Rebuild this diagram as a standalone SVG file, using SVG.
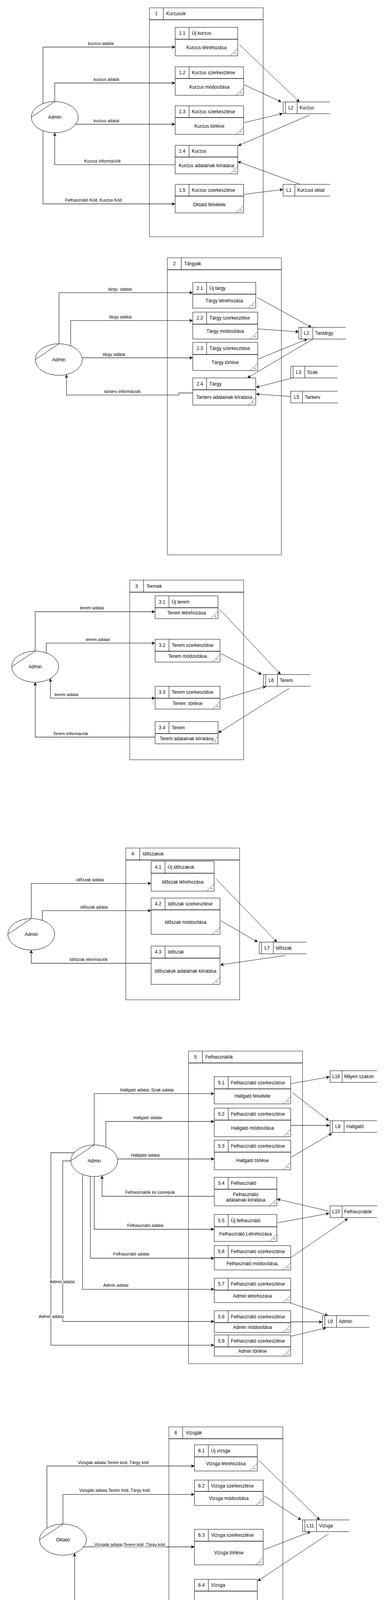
<svg xmlns="http://www.w3.org/2000/svg" width="982" height="7565" viewBox="0 0 982 7565">
<defs>
<style>
text{font-family:"Liberation Sans",Arial,sans-serif;fill:#000}
.t{font-size:12px;dominant-baseline:central}
.tm{font-size:12px;dominant-baseline:central;text-anchor:middle}
.l{font-size:11px;dominant-baseline:central;text-anchor:middle;paint-order:stroke;stroke:#fff;stroke-width:4px;stroke-linejoin:round}
.st{font-size:9px;text-anchor:middle}
.box{fill:#fff;stroke:#555;stroke-width:1.5}
.cont{fill:#fff;stroke:#666;stroke-width:1.5}
.hl{stroke:#000;stroke-width:1.5}
.dl{stroke:#000;stroke-width:1}
.cn{stroke:#444;stroke-width:1}
.sl{fill:none;stroke:#555;stroke-width:1.5}
.ent{fill:#fff;stroke:#000;stroke-width:1}
.f{fill:none;stroke:#333;stroke-width:1.3;marker-end:url(#ar)}
.g{fill:none;stroke:#111;stroke-width:1;marker-end:url(#ar)}
.bi{marker-start:url(#ar)}
</style>
<marker id="ar" viewBox="0 0 10 10" refX="10" refY="5" markerWidth="9" markerHeight="9" markerUnits="userSpaceOnUse" orient="auto-start-reverse"><path d="M0,0 L10,5 L0,10 L3,5 Z" fill="#000"/></marker>
</defs>
<rect width="982" height="7565" fill="#fff"/>

<!-- containers -->
<g id="c1"><rect class="cont" x="382" y="20" width="291" height="586"/><line class="hl" x1="382" y1="50.5" x2="673" y2="50.5"/><line class="dl" x1="417.5" y1="20" x2="417.5" y2="50.5"/><text class="tm" x="399.75" y="35.25">1</text><text class="t" x="425" y="35.25">Kurzusok</text></g>
<g id="c2"><rect class="cont" x="428" y="660" width="291.5" height="760.5"/><line class="hl" x1="428" y1="690.5" x2="719.5" y2="690.5"/><line class="dl" x1="463.5" y1="660" x2="463.5" y2="690.5"/><text class="tm" x="445.75" y="675.25">2</text><text class="t" x="471" y="675.25">Tárgyak</text></g>
<g id="c3"><rect class="cont" x="331.7" y="1485" width="291.3" height="460"/><line class="hl" x1="331.7" y1="1516" x2="623" y2="1516"/><line class="dl" x1="367.2" y1="1485" x2="367.2" y2="1516"/><text class="tm" x="349.45" y="1500.5">3</text><text class="t" x="374.7" y="1500.5">Termek</text></g>
<g id="c4"><rect class="cont" x="321.7" y="2171" width="291" height="388.5"/><line class="hl" x1="321.7" y1="2201.5" x2="612.7" y2="2201.5"/><line class="dl" x1="357.2" y1="2171" x2="357.2" y2="2201.5"/><text class="tm" x="339.45" y="2186.25">4</text><text class="t" x="364.7" y="2186.25">Időszakok</text></g>
<g id="c5"><rect class="cont" x="482" y="2690.7" width="291.6" height="800.3"/><line class="hl" x1="482" y1="2721.2" x2="773.6" y2="2721.2"/><line class="dl" x1="517.5" y1="2690.7" x2="517.5" y2="2721.2"/><text class="tm" x="499.75" y="2705.95">5</text><text class="t" x="525" y="2705.95">Felhasználók</text></g>
<g id="c6"><rect class="cont" x="431.8" y="3652.8" width="291.5" height="529.2"/><line class="hl" x1="431.8" y1="3683.3" x2="723.3" y2="3683.3"/><line class="dl" x1="467.3" y1="3652.8" x2="467.3" y2="3683.3"/><text class="tm" x="449.55" y="3668.05">6</text><text class="t" x="474.8" y="3668.05">Vizsgák</text></g>
<g id="c8"><rect class="cont" x="386.5" y="4511" width="291.5" height="583"/><line class="hl" x1="386.5" y1="4541.5" x2="678" y2="4541.5"/><line class="dl" x1="422" y1="4511" x2="422" y2="4541.5"/><text class="tm" x="404.25" y="4526.25">8</text><text class="t" x="429.5" y="4526.25">Vizsák</text></g>
<g id="c9"><rect class="cont" x="386.5" y="5171.4" width="291.5" height="582.6"/><line class="hl" x1="386.5" y1="5201.9" x2="678" y2="5201.9"/><line class="dl" x1="422" y1="5171.4" x2="422" y2="5201.9"/><text class="tm" x="404.25" y="5186.65">9</text><text class="t" x="429.5" y="5186.65">Kurzusok</text></g>
<g id="c12"><rect class="cont" x="401.6" y="6461.3" width="291.4" height="583.3"/><line class="hl" x1="401.6" y1="6491.8" x2="693" y2="6491.8"/><line class="dl" x1="437.1" y1="6461.3" x2="437.1" y2="6491.8"/><text class="tm" x="419.35" y="6476.55">12</text><text class="t" x="444.6" y="6476.55">Kurzusok</text></g>
<g id="c13"><rect class="cont" x="391.5" y="7114" width="241" height="431.7"/><line class="hl" x1="391.5" y1="7144.5" x2="632.5" y2="7144.5"/><line class="dl" x1="427" y1="7114" x2="427" y2="7144.5"/><text class="tm" x="409.25" y="7129.25">13</text><text class="t" x="434.5" y="7129.25">Szakok</text></g>

<!-- connectors -->
<g id="connectors">
<path class="f" d="M110,265.4 V120.5 H448"/>
<path class="f" d="M140,260 V212.5 H448"/>
<path class="f" d="M194,318 H448"/>
<path class="f" d="M448,421.7 H140 V340"/>
<path class="f" d="M110,334.6 V522 H448"/>
<path class="g" d="M612,114 L766,261"/>
<path class="g" d="M624.5,217 L719.5,261"/>
<path class="g" d="M624.5,314 L722.7,290.5"/>
<path class="g" d="M790.7,295 L609,373"/>
<path class="g" d="M768,472 L608,413.5"/>
<path class="g" d="M624.5,497.5 L724,485"/>

<path class="f" d="M151,880 V749.3 H493"/>
<path class="f" d="M180.7,885 V820.7 H493"/>
<path class="f" d="M210.5,916 H493"/>
<path class="f" d="M493,1006 H457.7 V1011.3 H170 V959"/>
<path class="g" d="M658,761.6 L796.4,838"/>
<path class="g" d="M659,842 L764,849.4"/>
<path class="g" d="M660.4,919 L786,868"/>
<path class="g" d="M799.5,868.6 L632.7,967.4"/>
<path class="g" d="M749,967.4 L654.7,991.6"/>
<path class="g" d="M743.5,1015 L654.7,1008.8"/>

<path class="f" d="M90,1666.7 V1566 H396.6"/>
<path class="f" d="M118.3,1671.4 V1646.4 H396.6"/>
<path class="f bi" d="M129,1737 V1787.4 H396.6"/>
<path class="f" d="M396.6,1887 H90 V1746.7"/>
<path class="g" d="M562,1560 L717.7,1726.7"/>
<path class="g" d="M564.7,1673 L669,1726.7"/>
<path class="g" d="M564.7,1791.5 L680.5,1757"/>
<path class="g" d="M739.7,1762 L558.4,1876"/>

<path class="f" d="M80,2351.4 V2261.6 H386.5"/>
<path class="f" d="M108.3,2356.2 V2331.3 H386.5"/>
<path class="f" d="M386.5,2466 H80 V2432.2"/>
<path class="g" d="M552,2249.7 L708.2,2411.7"/>
<path class="g" d="M564.7,2357 L659,2411.7"/>
<path class="g" d="M730,2446 L563.4,2470"/>

<path class="f" d="M241,2931 V2799.7 H548"/>
<path class="f" d="M270.7,2936.3 V2871 H548"/>
<path class="f" d="M300.6,2967 H548"/>
<path class="f" d="M548,3062.5 H261 V3010"/>
<path class="f" d="M241,3012 V3147 H548"/>
<path class="f" d="M231,3011.4 V3221 H548"/>
<path class="f" d="M211,3006.6 V3300.6 H548"/>
<path class="f" d="M181,2972 H160.5 V3383 H548"/>
<path class="f" d="M189.3,2951 H130 V3443.7 H548"/>
<path class="g" d="M744.7,2774 L843,2756.8"/>
<path class="g" d="M748.5,2797.7 L841,2869"/>
<path class="f" d="M744.7,2881 L843,2881"/>
<path class="g" d="M744.7,2962.5 L848.6,2901.5"/>
<path class="g" d="M841,3100.6 L708.2,3069.5"/>
<path class="g" d="M709.4,3130.5 L842,3106"/>
<path class="g" d="M743.4,3219.4 L889.5,3119.5"/>
<path class="g" d="M739.7,3334.6 L839,3368"/>
<path class="f" d="M743.4,3384 L824,3384"/>
<path class="g" d="M743.4,3421 L834,3399.4"/>

<path class="f" d="M120,3912 V3753 H497.3"/>
<path class="f" d="M161,3901.5 V3825.7 H497.3"/>
<path class="f" d="M214,3960 H497.3"/>
<path class="f" d="M497.3,4112 H190.7 V3976.3"/>
<path class="g" d="M662,3738 L817.7,3891"/>
<path class="g" d="M674.8,3829 L770,3891"/>
<path class="g" d="M674.8,3967.5 L794.4,3921"/>
<path class="g" d="M840.4,3926.5 L659,4047.5"/>

<path class="f" d="M250.7,4303.5 H442.5"/>
<path class="f bi" d="M603,4302.6 H652"/>

<path class="f" d="M151,4752.4 V4611.5 H452"/>
<path class="f" d="M202,4778.5 H452"/>
<path class="f" d="M452,4912.4 H146 V4832"/>
<path class="g" d="M590,4637 L765,4752"/>
<path class="g" d="M613.8,4768 L728,4768"/>
<path class="g" d="M795.7,4787.4 L613.8,4864.4"/>
<path class="g" d="M728,4907.5 L613.8,4903.8"/>

<path class="f" d="M151,5412.4 V5272 H452"/>
<path class="f" d="M201.3,5438 H452"/>
<path class="f" d="M452,5573.4 H146 V5492.8"/>
<path class="g" d="M617,5264.4 L771,5412.4"/>
<path class="f" d="M613.8,5427.6 L728,5427.6"/>
<path class="g" d="M795.7,5447 L613.8,5525"/>
<path class="g" d="M728,5567.4 L613.8,5563.3"/>

<path class="f" d="M417.4,5954 L221,5952"/>
<path class="f" d="M642.7,5943 H593.6"/>

<path class="f" d="M431.8,6153.6 H420.5 V6132.6 H401 V6062.6 H150 V6088"/>
<path class="f" d="M210.5,6127.7 H316 V6173 H431.8"/>
<path class="f" d="M202,6273.6 H316 V6203.5 H431.8"/>
<path class="f" d="M431.8,6233 H401 V6320.7 H150 V6293.4"/>
<path class="f bi" d="M593.6,6184.3 H632.7"/>

<path class="f" d="M130.3,6708 V6562 H467"/>
<path class="f" d="M217,6728 H467"/>
<path class="f" d="M467,6863 H161 V6782.4"/>
<path class="g" d="M632,6555 L787,6702.4"/>
<path class="g" d="M628.3,6718.4 L743.5,6718.4"/>
<path class="g" d="M804.5,6734 L630,6813.5"/>
<path class="g" d="M753.5,6857.8 L628.3,6854"/>

<path class="f" d="M221.6,7276 L427.4,7217.2"/>
<path class="f" d="M221.6,7289.3 L428,7275"/>
<path class="f" d="M221.6,7301.3 L427.4,7325.8"/>
<path class="f" d="M221.6,7315 L427.4,7383"/>
<path class="g" d="M589.2,7215.6 L732,7253"/>
<path class="g" d="M603.7,7268.5 L729,7268.5"/>
<path class="g" d="M603.7,7337.8 L749,7283"/>
<path class="g" d="M588,7412.7 L713,7412.7"/>

<text class="l" x="258" y="110.5">kurzus adatai</text>
<text class="l" x="272" y="203">kurzus adatai</text>
<text class="l" x="272" y="308.5">kurzus adatai</text>
<text class="l" x="262" y="412">Kurzus információk</text>
<text class="l" x="239" y="511.5">Felhasználó Kód, Kurzus Kód</text>
<text class="l" x="307" y="740" xml:space="preserve">tárgy  adatai</text>
<text class="l" x="308" y="811">tárgy adatai</text>
<text class="l" x="291.5" y="906.8">tárgy adatai</text>
<text class="l" x="313" y="1002">tanterv információk</text>
<text class="l" x="235" y="1556">terem adatai</text>
<text class="l" x="250" y="1636.5">terem adatai</text>
<text class="l" x="170" y="1777.6">terem adatai</text>
<text class="l" x="180.7" y="1877.6">Terem információk</text>
<text class="l" x="230.4" y="2251.8">időszak adatai</text>
<text class="l" x="240.5" y="2322">időszak adatai</text>
<text class="l" x="226.6" y="2456.4">Időszak információk</text>
<text class="l" x="375.8" y="2790">Hallgató adatai, Szak adatai</text>
<text class="l" x="377.7" y="2861">Hallgató adatai</text>
<text class="l" x="372" y="2957">Hallgató adatai</text>
<text class="l" x="384" y="3052">Felhasználók és szerepük</text>
<text class="l" x="371.4" y="3137">Felhasználó adatai</text>
<text class="l" x="335.5" y="3210">Felhasználó adatai</text>
<text class="l" x="296" y="3289.6">Admin adatai</text>
<text class="l" x="159" y="3280.5">Admin adatai</text>
<text class="l" x="131" y="3370">Admin adatai</text>
<text class="l" x="289.6" y="3743.8">Vizsgák adatai,Terem kód, Tárgy kód</text>
<text class="l" x="292.7" y="3815.4">Vizsgák adatai,Terem kód, Tárgy kód</text>
<text class="l" x="331.7" y="3954">Vizsgák adatai,Terem kód, Tárgy kód</text>
<text class="l" x="323" y="4102.4">Vizsgák adatai,Terem kód, Tárgy kód</text>
<text class="l" x="347" y="4293.6">Felhasználó kód, jelszó</text>
<text class="l" x="299" y="4602">Felhasználó kód,Vizsga kód</text>
<text class="l" x="297" y="4768.5">Felhasználó kód,Vizsga kód</text>
<text class="l" x="267" y="4903.4">Vizsga információk</text>
<text class="l" x="299" y="5262.4">Felhasználó kód, Kurzus kód</text>
<text class="l" x="297" y="5429">Felhasználó kód, Kurzus kód</text>
<text class="l" x="267" y="5563.3">Kurzus iformációk</text>
<text class="l" x="317" y="5943" xml:space="preserve">Üzenet  információi</text>
<text class="l" x="326" y="6052.7">Tartalom , Címzett, Időpont</text>
<text class="l" x="316.6" y="6146.5" xml:space="preserve">Üzenet  adatai,Felhasználó kód</text>
<text class="l" x="314.8" y="6223.7">Üzenet adatai, Felhasználó kód</text>
<text class="l" x="264.4" y="6313">Tartalom , Címzett, Időpont</text>
<text class="l" x="302" y="6552.3">Felhasználó kód, Kurzus kód</text>
<text class="l" x="312" y="6718.8">Felhasználó kód, Kurzus kód</text>
<text class="l" x="281.4" y="6853.7">Kurzus iformációk</text>
<text class="l" x="343.7" y="7229.6">tanterv adatai</text>
<text class="l" x="345" y="7269">tanterv adatai</text>
<text class="l" x="345" y="7305.3">tanterv adatai</text>
<text class="l" x="323" y="7339">Szak adatai</text>
</g>

<!-- processes -->
<g id="p1_1"><rect class="box" x="448" y="70" width="160" height="73"/><line class="hl" x1="448" y1="100.5" x2="608" y2="100.5"/><line class="dl" x1="483.5" y1="70" x2="483.5" y2="100.5"/><line class="cn" x1="589" y1="143" x2="608" y2="124"/><text class="tm" x="465.75" y="85.25">1.1</text><text class="t" x="490.5" y="85.25">Új kurzus</text><text class="tm" x="528" y="122">Kurzus létrehozása</text><text class="st" x="601" y="141">*</text></g>
<g id="p1_2"><rect class="box" x="448" y="171" width="175" height="73"/><line class="hl" x1="448" y1="201" x2="623" y2="201"/><line class="dl" x1="483.5" y1="171" x2="483.5" y2="201"/><line class="cn" x1="604" y1="244" x2="623" y2="225"/><text class="tm" x="465.75" y="186">1.2</text><text class="t" x="490.5" y="186">Kurzus szerkesztése</text><text class="tm" x="535.5" y="222.5">Kurzus módosítása</text><text class="st" x="616" y="242">*</text></g>
<g id="p1_3"><rect class="box" x="448" y="271" width="175" height="73"/><line class="hl" x1="448" y1="301" x2="623" y2="301"/><line class="dl" x1="483.5" y1="271" x2="483.5" y2="301"/><line class="cn" x1="604" y1="344" x2="623" y2="325"/><text class="tm" x="465.75" y="286">1.3</text><text class="t" x="490.5" y="286">Kurzus szerkesztése</text><text class="tm" x="535.5" y="322.5">Kurzus törlése</text><text class="st" x="616" y="342">*</text></g>
<g id="p1_4"><rect class="box" x="448" y="372" width="160" height="73"/><line class="hl" x1="448" y1="402" x2="608" y2="402"/><line class="dl" x1="483.5" y1="372" x2="483.5" y2="402"/><line class="cn" x1="589" y1="445" x2="608" y2="426"/><text class="tm" x="465.75" y="387">1.4</text><text class="t" x="490.5" y="387">Kurzus</text><text class="tm" x="528" y="423.5">Kurzus adatainak kiíratása</text><text class="st" x="601" y="443">*</text></g>
<g id="p1_5"><rect class="box" x="448" y="472" width="175" height="73"/><line class="hl" x1="448" y1="502" x2="623" y2="502"/><line class="dl" x1="483.5" y1="472" x2="483.5" y2="502"/><line class="cn" x1="604" y1="545" x2="623" y2="526"/><text class="tm" x="465.75" y="487">1.5</text><text class="t" x="490.5" y="487">Kurzus szerkesztése</text><text class="tm" x="535.5" y="523.5">Oktató felvétele</text><text class="st" x="616" y="543">*</text></g>

<g id="p2_1"><rect class="box" x="493" y="723" width="161" height="66"/><line class="hl" x1="493" y1="753" x2="654" y2="753"/><line class="dl" x1="528.5" y1="723" x2="528.5" y2="753"/><line class="cn" x1="635" y1="789" x2="654" y2="770"/><text class="tm" x="510.75" y="738">2.1</text><text class="t" x="535.5" y="738">Új tárgy</text><text class="tm" x="573.5" y="770">Tárgy létrehozása</text><text class="st" x="647" y="787">*</text></g>
<g id="p2_2"><rect class="box" x="493" y="799" width="166" height="69"/><line class="hl" x1="493" y1="829.7" x2="659" y2="829.7"/><line class="dl" x1="528.5" y1="799" x2="528.5" y2="829.7"/><line class="cn" x1="640" y1="868" x2="659" y2="849"/><text class="tm" x="510.75" y="814.35">2.2</text><text class="t" x="535.5" y="814.35">Tárgy szerkesztése</text><text class="tm" x="576" y="848">Tárgy módosítása</text><text class="st" x="652" y="866">*</text></g>
<g id="p2_3"><rect class="box" x="493" y="876.5" width="166" height="72"/><line class="hl" x1="493" y1="907.5" x2="659" y2="907.5"/><line class="dl" x1="528.5" y1="876.5" x2="528.5" y2="907.5"/><line class="cn" x1="640" y1="948.5" x2="659" y2="929.5"/><text class="tm" x="510.75" y="892">2.3</text><text class="t" x="535.5" y="892">Tárgy szerkesztése</text><text class="tm" x="576" y="927.5">Tárgy törlése</text><text class="st" x="652" y="946.5">*</text></g>
<g id="p2_4"><rect class="box" x="493" y="967.5" width="161" height="69.5"/><line class="hl" x1="493" y1="997.8" x2="654" y2="997.8"/><line class="dl" x1="528.5" y1="967.5" x2="528.5" y2="997.8"/><line class="cn" x1="635" y1="1037" x2="654" y2="1018"/><text class="tm" x="510.75" y="982.65">2.4</text><text class="t" x="535.5" y="982.65">Tárgy</text><text class="tm" x="573.5" y="1017">Tanterv adatainak kiíratása</text><text class="st" x="647" y="1035">*</text></g>

<g id="p3_1"><rect class="box" x="396.6" y="1525.4" width="161" height="58.3"/><line class="hl" x1="396.6" y1="1555.8" x2="557.6" y2="1555.8"/><line class="dl" x1="432.1" y1="1525.4" x2="432.1" y2="1555.8"/><line class="cn" x1="538.6" y1="1583.7" x2="557.6" y2="1564.7"/><text class="tm" x="414.35" y="1540.6">3.1</text><text class="t" x="439.1" y="1540.6">Új terem</text><text class="tm" x="477.1" y="1569">Terem létrehozása</text><text class="st" x="550.6" y="1581.7">*</text></g>
<g id="p3_2"><rect class="box" x="396.6" y="1636.5" width="166" height="58.3"/><line class="hl" x1="396.6" y1="1667.3" x2="562.6" y2="1667.3"/><line class="dl" x1="432.1" y1="1636.5" x2="432.1" y2="1667.3"/><line class="cn" x1="543.6" y1="1694.8" x2="562.6" y2="1675.8"/><text class="tm" x="414.35" y="1651.9">3.2</text><text class="t" x="439.1" y="1651.9">Terem szerkesztése</text><text class="tm" x="479.6" y="1680">Terem módosítása</text><text class="st" x="555.6" y="1692.8">*</text></g>
<g id="p3_3"><rect class="box" x="396.6" y="1757" width="166" height="58.3"/><line class="hl" x1="396.6" y1="1787.4" x2="562.6" y2="1787.4"/><line class="dl" x1="432.1" y1="1757" x2="432.1" y2="1787.4"/><line class="cn" x1="543.6" y1="1815.3" x2="562.6" y2="1796.3"/><text class="tm" x="414.35" y="1772.2">3.3</text><text class="t" x="439.1" y="1772.2">Terem szerkesztése</text><text class="tm" x="479.6" y="1800.5" xml:space="preserve">Terem  törlése</text><text class="st" x="555.6" y="1813.3">*</text></g>
<g id="p3_4"><rect class="box" x="396.6" y="1847.3" width="161" height="57"/><line class="hl" x1="396.6" y1="1878" x2="557.6" y2="1878"/><line class="dl" x1="432.1" y1="1847.3" x2="432.1" y2="1878"/><line class="cn" x1="538.6" y1="1904.3" x2="557.6" y2="1885.3"/><text class="tm" x="414.35" y="1862.65">3.4</text><text class="t" x="439.1" y="1862.65">Terem</text><text class="tm" x="477.1" y="1891">Terem adatainak kiíratása</text><text class="st" x="550.6" y="1902.3">*</text></g>

<g id="p4_1"><rect class="box" x="386.5" y="2204.7" width="161" height="76.7"/><line class="hl" x1="386.5" y1="2235.4" x2="547.5" y2="2235.4"/><line class="dl" x1="422" y1="2204.7" x2="422" y2="2235.4"/><line class="cn" x1="528.5" y1="2281.4" x2="547.5" y2="2262.4"/><text class="tm" x="404.25" y="2220.05">4.1</text><text class="t" x="429" y="2220.05">Új időszakok</text><text class="tm" x="467" y="2258">Időszak létrehozása</text><text class="st" x="540.5" y="2279.4">*</text></g>
<g id="p4_2"><rect class="box" x="386.5" y="2299" width="176" height="93"/><line class="hl" x1="386.5" y1="2329.3" x2="562.5" y2="2329.3"/><line class="dl" x1="422" y1="2299" x2="422" y2="2329.3"/><line class="cn" x1="543.5" y1="2392" x2="562.5" y2="2373"/><text class="tm" x="404.25" y="2314.15">4.2</text><text class="t" x="429" y="2314.15">Időszak szerkesztése</text><text class="tm" x="474.5" y="2360.5">Időszak módosítása</text><text class="st" x="555.5" y="2390">*</text></g>
<g id="p4_3"><rect class="box" x="386.5" y="2422" width="176" height="98"/><line class="hl" x1="386.5" y1="2452.7" x2="562.5" y2="2452.7"/><line class="dl" x1="422" y1="2422" x2="422" y2="2452.7"/><line class="cn" x1="543.5" y1="2520" x2="562.5" y2="2501"/><text class="tm" x="404.25" y="2437.35">4.3</text><text class="t" x="429" y="2437.35">Időszak</text><text class="tm" x="474.5" y="2486">Időszakok adatainak kiíratása</text><text class="st" x="555.5" y="2518">*</text></g>

<g id="p5_1"><rect class="box" x="548" y="2756.3" width="195.4" height="69.7"/><line class="hl" x1="548" y1="2787.5" x2="743.4" y2="2787.5"/><line class="dl" x1="583.5" y1="2756.3" x2="583.5" y2="2787.5"/><line class="cn" x1="724.4" y1="2826" x2="743.4" y2="2807"/><text class="tm" x="565.75" y="2771.9">5.1</text><text class="t" x="590.5" y="2771.9">Felhasználó szerkesztése</text><text class="tm" x="645.7" y="2805.5">Hallgató felvétele</text><text class="st" x="736.4" y="2824">*</text></g>
<g id="p5_2"><rect class="box" x="548" y="2836.7" width="195.4" height="73.3"/><line class="hl" x1="548" y1="2867.4" x2="743.4" y2="2867.4"/><line class="dl" x1="583.5" y1="2836.7" x2="583.5" y2="2867.4"/><line class="cn" x1="724.4" y1="2910" x2="743.4" y2="2891"/><text class="tm" x="565.75" y="2852.05">5.2</text><text class="t" x="590.5" y="2852.05">Felhasználó szerkesztése</text><text class="tm" x="645.7" y="2887.5">Hallgató módosítása</text><text class="st" x="736.4" y="2908">*</text></g>
<g id="p5_3"><rect class="box" x="548" y="2918.7" width="195.4" height="75.8"/><line class="hl" x1="548" y1="2949.4" x2="743.4" y2="2949.4"/><line class="dl" x1="583.5" y1="2918.7" x2="583.5" y2="2949.4"/><line class="cn" x1="724.4" y1="2994.5" x2="743.4" y2="2975.5"/><text class="tm" x="565.75" y="2934.05">5.3</text><text class="t" x="590.5" y="2934.05">Felhasználó szerkesztése</text><text class="tm" x="645.7" y="2971">Hallgató törlése</text><text class="st" x="736.4" y="2992.5">*</text></g>
<g id="p5_4"><rect class="box" x="548" y="3014" width="160" height="73"/><line class="hl" x1="548" y1="3044.6" x2="708" y2="3044.6"/><line class="dl" x1="583.5" y1="3014" x2="583.5" y2="3044.6"/><line class="cn" x1="689" y1="3087" x2="708" y2="3068"/><text class="tm" x="565.75" y="3029.3">5.4</text><text class="t" x="590.5" y="3029.3">Felhasználó</text><text class="tm" x="628" y="3058">Felhasználó</text><text class="tm" x="628" y="3072">adatainak kiíratása</text><text class="st" x="701" y="3085">*</text></g>
<g id="p5_5"><rect class="box" x="548" y="3109" width="160" height="69"/><line class="hl" x1="548" y1="3140.5" x2="708" y2="3140.5"/><line class="dl" x1="583.5" y1="3109" x2="583.5" y2="3140.5"/><line class="cn" x1="689" y1="3178" x2="708" y2="3159"/><text class="tm" x="565.75" y="3124.75">5.5</text><text class="t" x="590.5" y="3124.75">Új felhasználó</text><text class="tm" x="628" y="3159">Felhasználó Létrehozása</text><text class="st" x="701" y="3176">*</text></g>
<g id="p5_6"><rect class="box" x="548" y="3188.7" width="195.4" height="62.3"/><line class="hl" x1="548" y1="3219.4" x2="743.4" y2="3219.4"/><line class="dl" x1="583.5" y1="3188.7" x2="583.5" y2="3219.4"/><line class="cn" x1="724.4" y1="3251" x2="743.4" y2="3232"/><text class="tm" x="565.75" y="3204.05">5.6</text><text class="t" x="590.5" y="3204.05">Felhasználó szerkesztése</text><text class="tm" x="645.7" y="3235">Felhasználó módosítása,</text><text class="st" x="736.4" y="3249">*</text></g>
<g id="p5_7"><rect class="box" x="548" y="3272" width="195.4" height="62.6"/><line class="hl" x1="548" y1="3302.7" x2="743.4" y2="3302.7"/><line class="dl" x1="583.5" y1="3272" x2="583.5" y2="3302.7"/><line class="cn" x1="724.4" y1="3334.6" x2="743.4" y2="3315.6"/><text class="tm" x="565.75" y="3287.35">5.7</text><text class="t" x="590.5" y="3287.35">Felhasználó szerkesztése</text><text class="tm" x="645.7" y="3318">Admin létrehozása</text><text class="st" x="736.4" y="3332.6">*</text></g>
<g id="p5_8"><rect class="box" x="548" y="3355.5" width="195.4" height="55.5"/><line class="hl" x1="548" y1="3386" x2="743.4" y2="3386"/><line class="dl" x1="583.5" y1="3355.5" x2="583.5" y2="3386"/><line class="cn" x1="724.4" y1="3411" x2="743.4" y2="3392"/><text class="tm" x="565.75" y="3370.75">5.8</text><text class="t" x="590.5" y="3370.75">Felhasználó szerkesztése</text><text class="tm" x="645.7" y="3398">Admin módosítása</text><text class="st" x="736.4" y="3409">*</text></g>
<g id="p5_9"><rect class="box" x="548" y="3417.5" width="195.4" height="54"/><line class="hl" x1="548" y1="3448" x2="743.4" y2="3448"/><line class="dl" x1="583.5" y1="3417.5" x2="583.5" y2="3448"/><line class="cn" x1="724.4" y1="3471.5" x2="743.4" y2="3452.5"/><text class="tm" x="565.75" y="3432.75">5.9</text><text class="t" x="590.5" y="3432.75">Felhasználó szerkesztése</text><text class="tm" x="645.7" y="3459">Admin törlése</text><text class="st" x="736.4" y="3469.5">*</text></g>

<g id="p6_1"><rect class="box" x="497.3" y="3698.7" width="160.5" height="67"/><line class="hl" x1="497.3" y1="3729.5" x2="657.8" y2="3729.5"/><line class="dl" x1="532.8" y1="3698.7" x2="532.8" y2="3729.5"/><line class="cn" x1="638.8" y1="3765.7" x2="657.8" y2="3746.7"/><text class="tm" x="515.05" y="3714.1">6.1</text><text class="t" x="539.8" y="3714.1">Új vizsga</text><text class="tm" x="577.55" y="3747">Vizsga létrehozása</text><text class="st" x="650.8" y="3763.7">*</text></g>
<g id="p6_2"><rect class="box" x="497.3" y="3789" width="175.7" height="65"/><line class="hl" x1="497.3" y1="3818" x2="673" y2="3818"/><line class="dl" x1="532.8" y1="3789" x2="532.8" y2="3818"/><line class="cn" x1="654" y1="3854" x2="673" y2="3835"/><text class="tm" x="515.05" y="3803.5">6.2</text><text class="t" x="539.8" y="3803.5">Vizsga szerkesztése</text><text class="tm" x="585.15" y="3835.5">Vizsga módosítása</text><text class="st" x="666" y="3852">*</text></g>
<g id="p6_3"><rect class="box" x="497.3" y="3915" width="175.7" height="91"/><line class="hl" x1="497.3" y1="3945.4" x2="673" y2="3945.4"/><line class="dl" x1="532.8" y1="3915" x2="532.8" y2="3945.4"/><line class="cn" x1="654" y1="4006" x2="673" y2="3987"/><text class="tm" x="515.05" y="3930.2">6.3</text><text class="t" x="539.8" y="3930.2">Vizsga szerkesztése</text><text class="tm" x="585.15" y="3975">Vizsga törlése</text><text class="st" x="666" y="4004">*</text></g>
<g id="p6_4"><rect class="box" x="497.3" y="4043" width="160.5" height="118.5"/><line class="hl" x1="497.3" y1="4073.3" x2="657.8" y2="4073.3"/><line class="dl" x1="532.8" y1="4043" x2="532.8" y2="4073.3"/><line class="cn" x1="638.8" y1="4161.5" x2="657.8" y2="4142.5"/><text class="tm" x="515.05" y="4058.15">6.4</text><text class="t" x="539.8" y="4058.15">Vizsga</text><text class="tm" x="577.55" y="4116">Vizsga adatainak kiíratása</text><text class="st" x="650.8" y="4159.5">*</text></g>

<g id="p7"><rect class="box" x="442.5" y="4242.6" width="160.5" height="120.4"/><line class="hl" x1="442.5" y1="4273.4" x2="603" y2="4273.4"/><line class="dl" x1="478" y1="4242.6" x2="478" y2="4273.4"/><line class="cn" x1="584" y1="4363" x2="603" y2="4344"/><text class="tm" x="460.25" y="4258">7</text><text class="t" x="485" y="4258">Bejelentkezés</text><text class="tm" x="522.75" y="4317">Bejelentkezés</text><text class="st" x="596" y="4361">*</text></g>

<g id="p8_1"><rect class="box" x="452" y="4561.4" width="161" height="73.4"/><line class="hl" x1="452" y1="4592" x2="613" y2="4592"/><line class="dl" x1="487.5" y1="4561.4" x2="487.5" y2="4592"/><line class="cn" x1="594" y1="4634.8" x2="613" y2="4615.8"/><text class="tm" x="469.75" y="4576.7">8.1</text><text class="t" x="494.5" y="4576.7">Vizsgajelentkezés</text><text class="tm" x="532.5" y="4613">Vizsga felvétele</text><text class="st" x="606" y="4632.8">*</text></g>
<g id="p8_2"><rect class="box" x="452" y="4730" width="161" height="73.6"/><line class="hl" x1="452" y1="4761" x2="613" y2="4761"/><line class="dl" x1="487.5" y1="4730" x2="487.5" y2="4761"/><line class="cn" x1="594" y1="4803.6" x2="613" y2="4784.6"/><text class="tm" x="469.75" y="4745.5">8.2</text><text class="t" x="494.5" y="4745.5">Felvett vizsgák</text><text class="tm" x="532.5" y="4782">Vizsga leadás</text><text class="st" x="606" y="4801.6">*</text></g>
<g id="p8_3"><rect class="box" x="452" y="4862.8" width="161" height="73.2"/><line class="hl" x1="452" y1="4893.6" x2="613" y2="4893.6"/><line class="dl" x1="487.5" y1="4862.8" x2="487.5" y2="4893.6"/><line class="cn" x1="594" y1="4936" x2="613" y2="4917"/><text class="tm" x="469.75" y="4878.2">8.3</text><text class="t" x="494.5" y="4878.2">Vizsga</text><text class="tm" x="532.5" y="4914.5">Vizsga adatainak kiíratása</text><text class="st" x="606" y="4934">*</text></g>

<g id="p9_1"><rect class="box" x="452" y="5221.4" width="161" height="73.6"/><line class="hl" x1="452" y1="5252" x2="613" y2="5252"/><line class="dl" x1="487.5" y1="5221.4" x2="487.5" y2="5252"/><line class="cn" x1="594" y1="5295" x2="613" y2="5276"/><text class="tm" x="469.75" y="5236.7">9.1</text><text class="t" x="494.5" y="5236.7">Kurzusfelvétel</text><text class="tm" x="532.5" y="5273.5">Kurzus felvétele</text><text class="st" x="606" y="5293">*</text></g>
<g id="p9_2"><rect class="box" x="452" y="5390" width="161" height="74"/><line class="hl" x1="452" y1="5421.5" x2="613" y2="5421.5"/><line class="dl" x1="487.5" y1="5390" x2="487.5" y2="5421.5"/><line class="cn" x1="594" y1="5464" x2="613" y2="5445"/><text class="tm" x="469.75" y="5405.75">9.2</text><text class="t" x="494.5" y="5405.75">Felvett kurzusok</text><text class="tm" x="532.5" y="5441.5">Kurzus leadás</text><text class="st" x="606" y="5462">*</text></g>
<g id="p9_3"><rect class="box" x="452" y="5522.7" width="161" height="73.8"/><line class="hl" x1="452" y1="5553.5" x2="613" y2="5553.5"/><line class="dl" x1="487.5" y1="5522.7" x2="487.5" y2="5553.5"/><line class="cn" x1="594" y1="5596.5" x2="613" y2="5577.5"/><text class="tm" x="469.75" y="5538.1">9.3</text><text class="t" x="494.5" y="5538.1">Kurzus</text><text class="tm" x="532.5" y="5574.5">Kurzus adatainak kiíratása</text><text class="st" x="606" y="5594.5">*</text></g>

<g id="p10"><rect class="box" x="417.4" y="5881.7" width="175" height="120.6"/><line class="hl" x1="417.4" y1="5912.5" x2="592.4" y2="5912.5"/><line class="dl" x1="452.9" y1="5881.7" x2="452.9" y2="5912.5"/><line class="cn" x1="573.4" y1="6002.3" x2="592.4" y2="5983.3"/><text class="tm" x="435.15" y="5897.1">10</text><text class="t" x="459.9" y="5897.1">Beérkezett üzenetek</text><text class="tm" x="504.9" y="5955.5">Üzenet olvasása</text><text class="st" x="585.4" y="6000.3">*</text></g>
<g id="p11"><rect class="box" x="431.8" y="6122.8" width="160.6" height="120.2"/><line class="hl" x1="431.8" y1="6153.6" x2="592.4" y2="6153.6"/><line class="dl" x1="467.3" y1="6122.8" x2="467.3" y2="6153.6"/><line class="cn" x1="573.4" y1="6243" x2="592.4" y2="6224"/><text class="tm" x="449.55" y="6138.2">11</text><text class="t" x="474.3" y="6138.2">Új üzenet</text><text class="tm" x="512.1" y="6197">Üzenet írása</text><text class="st" x="585.4" y="6241">*</text></g>

<g id="p12_1"><rect class="box" x="467" y="6511.7" width="161.3" height="73.8"/><line class="hl" x1="467" y1="6542.5" x2="628.3" y2="6542.5"/><line class="dl" x1="502.5" y1="6511.7" x2="502.5" y2="6542.5"/><line class="cn" x1="609.3" y1="6585.5" x2="628.3" y2="6566.5"/><text class="tm" x="484.75" y="6527.1">12.1</text><text class="t" x="509.5" y="6527.1">Kurzus</text><text class="tm" x="547.65" y="6563">Érdemjegy módosítása</text><text class="st" x="621.3" y="6583.5">*</text></g>
<g id="p12_2"><rect class="box" x="467" y="6681" width="161.3" height="73"/><line class="hl" x1="467" y1="6711.4" x2="628.3" y2="6711.4"/><line class="dl" x1="502.5" y1="6681" x2="502.5" y2="6711.4"/><line class="cn" x1="609.3" y1="6754" x2="628.3" y2="6735"/><text class="tm" x="484.75" y="6696.2">12.2</text><text class="t" x="509.5" y="6696.2">Kurzus</text><text class="tm" x="547.65" y="6732">Érdemjegy beítása</text><text class="st" x="621.3" y="6752">*</text></g>
<g id="p12_3"><rect class="box" x="467" y="6813.5" width="161.3" height="73"/><line class="hl" x1="467" y1="6843.8" x2="628.3" y2="6843.8"/><line class="dl" x1="502.5" y1="6813.5" x2="502.5" y2="6843.8"/><line class="cn" x1="609.3" y1="6886.5" x2="628.3" y2="6867.5"/><text class="tm" x="484.75" y="6828.65">12.3</text><text class="t" x="509.5" y="6828.65">Kurzus</text><text class="tm" x="547.65" y="6864.5">Kurzus adatainak kiíratása</text><text class="st" x="621.3" y="6884.5">*</text></g>

<g id="p13_1"><rect class="box" x="427.4" y="7160.3" width="160.6" height="68.1"/><line class="hl" x1="427.4" y1="7191.2" x2="588" y2="7191.2"/><line class="dl" x1="462.9" y1="7160.3" x2="462.9" y2="7191.2"/><line class="cn" x1="569" y1="7228.4" x2="588" y2="7209.4"/><text class="tm" x="445.15" y="7175.75">13.1</text><text class="t" x="469.9" y="7175.75">Új tanterv</text><text class="tm" x="507.7" y="7209">Tanterv Létrehozása</text><text class="st" x="581" y="7226.4">*</text></g>
<g id="p13_2"><rect class="box" x="428" y="7238" width="175.7" height="59.7"/><line class="hl" x1="428" y1="7269.3" x2="603.7" y2="7269.3"/><line class="dl" x1="463.5" y1="7238" x2="463.5" y2="7269.3"/><line class="cn" x1="584.7" y1="7297.7" x2="603.7" y2="7278.7"/><text class="tm" x="445.75" y="7253.65">13.2</text><text class="t" x="470.5" y="7253.65">Tanterv szerkesztése</text><text class="tm" x="515.85" y="7282">Tanterv módosítása</text><text class="st" x="596.7" y="7295.7">*</text></g>
<g id="p13_3"><rect class="box" x="427.4" y="7307.3" width="175.6" height="59.7"/><line class="hl" x1="427.4" y1="7337.8" x2="603" y2="7337.8"/><line class="dl" x1="462.9" y1="7307.3" x2="462.9" y2="7337.8"/><line class="cn" x1="584" y1="7367" x2="603" y2="7348"/><text class="tm" x="445.15" y="7322.55">13.3</text><text class="t" x="469.9" y="7322.55">Tanterv szerkesztése</text><text class="tm" x="515.2" y="7351.5">Tanterv törlése</text><text class="st" x="596" y="7365">*</text></g>
<g id="p13_4"><rect class="box" x="427.4" y="7376.7" width="160.6" height="69.7"/><line class="hl" x1="427.4" y1="7407" x2="588" y2="7407"/><line class="dl" x1="462.9" y1="7376.7" x2="462.9" y2="7407"/><line class="cn" x1="569" y1="7446.4" x2="588" y2="7427.4"/><text class="tm" x="445.15" y="7391.85">13.4</text><text class="t" x="469.9" y="7391.85">Új szak</text><text class="tm" x="507.7" y="7426">Szak létrehozása</text><text class="st" x="581" y="7444.4">*</text></g>

<!-- data stores -->
<g id="s1_l2"><path class="sl" d="M844,261 H724 V291 H844"/><line class="dl" x1="730" y1="261" x2="730" y2="291"/><line class="dl" x1="760" y1="261" x2="760" y2="291"/><text class="tm" x="744" y="276">L2</text><text class="t" x="766" y="276">Kurzus</text></g>
<g id="s1_l1"><path class="sl" d="M844,472 H724 V502 H844"/><line class="dl" x1="754" y1="472" x2="754" y2="502"/><text class="tm" x="739" y="487">L1</text><text class="t" x="760" y="487">Kurzust oktat</text></g>
<g id="s2_l2"><path class="sl" d="M884,838 H764 V868 H884"/><line class="dl" x1="770" y1="838" x2="770" y2="868"/><line class="dl" x1="800" y1="838" x2="800" y2="868"/><text class="tm" x="784" y="853">L2</text><text class="t" x="806" y="853">Tantárgy</text></g>
<g id="s2_l3"><path class="sl" d="M863.5,937.5 H743.5 V967.5 H863.5"/><line class="dl" x1="749.5" y1="937.5" x2="749.5" y2="967.5"/><line class="dl" x1="779.5" y1="937.5" x2="779.5" y2="967.5"/><text class="tm" x="763.5" y="952.5">L3</text><text class="t" x="785.5" y="952.5">Szak</text></g>
<g id="s2_l5"><path class="sl" d="M863.5,1001.5 H743.5 V1031.5 H863.5"/><line class="dl" x1="773.5" y1="1001.5" x2="773.5" y2="1031.5"/><text class="tm" x="758.5" y="1016.5">L5</text><text class="t" x="779.5" y="1016.5">Tanterv</text></g>
<g id="s3_l6"><path class="sl" d="M793.6,1726.7 H673.6 V1756.7 H793.6"/><line class="dl" x1="679.6" y1="1726.7" x2="679.6" y2="1756.7"/><line class="dl" x1="709.6" y1="1726.7" x2="709.6" y2="1756.7"/><text class="tm" x="693.6" y="1741.7">L6</text><text class="t" x="715.6" y="1741.7">Terem</text></g>
<g id="s4_l7"><path class="sl" d="M783,2411.7 H663 V2441.7 H783"/><line class="dl" x1="669" y1="2411.7" x2="669" y2="2441.7"/><line class="dl" x1="699" y1="2411.7" x2="699" y2="2441.7"/><text class="tm" x="683" y="2426.7">L7</text><text class="t" x="705" y="2426.7">Időszak</text></g>
<g id="s5_l16"><path class="sl" d="M964,2741 H844 V2771 H964"/><line class="dl" x1="875" y1="2741" x2="875" y2="2771"/><text class="tm" x="859.5" y="2756">L16</text><text class="t" x="880" y="2756">Milyen szakon</text></g>
<g id="s5_l8"><path class="sl" d="M964,2869 H844 V2899 H964"/><line class="dl" x1="850" y1="2869" x2="850" y2="2899"/><line class="dl" x1="880" y1="2869" x2="880" y2="2899"/><text class="tm" x="864" y="2884">L8</text><text class="t" x="886" y="2884">Hallgató</text></g>
<g id="s5_l10"><path class="sl" d="M964,3087 H844 V3117 H964"/><line class="dl" x1="875" y1="3087" x2="875" y2="3117"/><text class="tm" x="859.5" y="3102">L10</text><text class="t" x="880" y="3102">Felhasználók</text></g>
<g id="s5_l9"><path class="sl" d="M944.6,3368 H824.6 V3398 H944.6"/><line class="dl" x1="830.6" y1="3368" x2="830.6" y2="3398"/><line class="dl" x1="860.6" y1="3368" x2="860.6" y2="3398"/><text class="tm" x="844.6" y="3383">L9</text><text class="t" x="866.6" y="3383">Admin</text></g>
<g id="s6_l11"><path class="sl" d="M893.6,3891 H773.6 V3921 H893.6"/><line class="dl" x1="779.6" y1="3891" x2="779.6" y2="3921"/><line class="dl" x1="809.6" y1="3891" x2="809.6" y2="3921"/><text class="tm" x="793.6" y="3906">L11</text><text class="t" x="815.6" y="3906">Vizsga</text></g>
<g id="s7_l12"><path class="sl" d="M772,4288.5 H652 V4318.5 H772"/><line class="dl" x1="683" y1="4288.5" x2="683" y2="4318.5"/><text class="tm" x="667.5" y="4303.5">L12</text><text class="t" x="689" y="4303.5">Felhasználók</text></g>
<g id="s8_l13"><path class="sl" d="M848,4752 H728 V4782 H848"/><line class="dl" x1="734" y1="4752" x2="734" y2="4782"/><line class="dl" x1="764" y1="4752" x2="764" y2="4782"/><text class="tm" x="748" y="4767">L13</text><text class="t" x="770" y="4767">Felvett vizsga</text></g>
<g id="s8_l11"><path class="sl" d="M848,4906 H728 V4936 H848"/><line class="dl" x1="734" y1="4906" x2="734" y2="4936"/><line class="dl" x1="764" y1="4906" x2="764" y2="4936"/><text class="tm" x="748" y="4921">L11</text><text class="t" x="770" y="4921">Vizsga</text></g>
<g id="s9_l14"><path class="sl" d="M848,5412.4 H728 V5442.4 H848"/><line class="dl" x1="734" y1="5412.4" x2="734" y2="5442.4"/><line class="dl" x1="764" y1="5412.4" x2="764" y2="5442.4"/><text class="tm" x="748" y="5427.4">L14</text><text class="t" x="770" y="5427.4">Felvett kurzus</text></g>
<g id="s9_l2"><path class="sl" d="M848,5566.6 H728 V5596.6 H848"/><line class="dl" x1="734" y1="5566.6" x2="734" y2="5596.6"/><line class="dl" x1="764" y1="5566.6" x2="764" y2="5596.6"/><text class="tm" x="748" y="5581.6">L2</text><text class="t" x="770" y="5581.6">Kurzus</text></g>
<g id="s10_l15"><path class="sl" d="M762.7,5926.8 H642.7 V5956.8 H762.7"/><line class="dl" x1="648.7" y1="5926.8" x2="648.7" y2="5956.8"/><line class="dl" x1="678.7" y1="5926.8" x2="678.7" y2="5956.8"/><text class="tm" x="662.7" y="5941.8">L15</text><text class="t" x="684.7" y="5941.8">Üzenet</text></g>
<g id="s11_l15"><path class="sl" d="M752.7,6168 H632.7 V6198 H752.7"/><line class="dl" x1="638.7" y1="6168" x2="638.7" y2="6198"/><line class="dl" x1="668.7" y1="6168" x2="668.7" y2="6198"/><text class="tm" x="652.7" y="6183">L15</text><text class="t" x="674.7" y="6183">Üzenet</text></g>
<g id="s12_l14"><path class="sl" d="M863.5,6702.4 H743.5 V6732.4 H863.5"/><line class="dl" x1="749.5" y1="6702.4" x2="749.5" y2="6732.4"/><line class="dl" x1="779.5" y1="6702.4" x2="779.5" y2="6732.4"/><text class="tm" x="763.5" y="6717.4">L14</text><text class="t" x="785.5" y="6717.4">Felvett kurzus</text></g>
<g id="s12_l2"><path class="sl" d="M873.5,6856.5 H753.5 V6886.5 H873.5"/><line class="dl" x1="759.5" y1="6856.5" x2="759.5" y2="6886.5"/><line class="dl" x1="789.5" y1="6856.5" x2="789.5" y2="6886.5"/><text class="tm" x="773.5" y="6871.5">L2</text><text class="t" x="795.5" y="6871.5">Kurzus</text></g>
<g id="s13_l5"><path class="sl" d="M849,7253 H729 V7283 H849"/><line class="dl" x1="735" y1="7253" x2="735" y2="7283"/><line class="dl" x1="765" y1="7253" x2="765" y2="7283"/><text class="tm" x="749" y="7268">L5</text><text class="t" x="771" y="7268">Tanterv</text></g>
<g id="s13_l3"><path class="sl" d="M833,7396 H713 V7426 H833"/><line class="dl" x1="719" y1="7396" x2="719" y2="7426"/><line class="dl" x1="749" y1="7396" x2="749" y2="7426"/><text class="tm" x="733" y="7411">L3</text><text class="t" x="755" y="7411">Szak</text></g>

<!-- external entities -->
<g id="e1"><ellipse class="ent" cx="140" cy="300" rx="60" ry="40"/><line class="dl" x1="80" y1="300" x2="140" y2="260"/><text class="tm" x="140" y="300">Admin</text></g>
<g id="e2"><ellipse class="ent" cx="150.5" cy="920.5" rx="60" ry="40.5"/><line class="dl" x1="90.5" y1="920.5" x2="150.5" y2="880"/><text class="tm" x="150.5" y="920.5">Admin</text></g>
<g id="e3"><ellipse class="ent" cx="90" cy="1706.7" rx="60" ry="40"/><line class="dl" x1="30" y1="1706.7" x2="90" y2="1666.7"/><text class="tm" x="90" y="1706.7">Admin</text></g>
<g id="e4"><ellipse class="ent" cx="80" cy="2391.8" rx="60" ry="40.4"/><line class="dl" x1="20" y1="2391.8" x2="80" y2="2351.4"/><text class="tm" x="80" y="2391.8">Admin</text></g>
<g id="e5"><ellipse class="ent" cx="241" cy="2971.5" rx="60" ry="40.5"/><line class="dl" x1="181" y1="2971.5" x2="241" y2="2931"/><text class="tm" x="241" y="2971.5">Admin</text></g>
<g id="e6"><ellipse class="ent" cx="161" cy="3941.5" rx="60" ry="40"/><line class="dl" x1="101" y1="3941.5" x2="161" y2="3901.5"/><text class="tm" x="161" y="3941.5">Oktató</text></g>
<g id="e7"><ellipse class="ent" cx="190.7" cy="4303" rx="60" ry="40.4"/><line class="dl" x1="130.7" y1="4303" x2="190.7" y2="4262.6"/><text class="tm" x="190.7" y="4303">Felhasználó</text></g>
<g id="e8"><ellipse class="ent" cx="145.4" cy="4792" rx="60" ry="40"/><line class="dl" x1="85.4" y1="4792" x2="145.4" y2="4752"/><text class="tm" x="145.4" y="4792">Hallgató</text></g>
<g id="e9"><ellipse class="ent" cx="145.4" cy="5452.6" rx="60" ry="40.2"/><line class="dl" x1="85.4" y1="5452.6" x2="145.4" y2="5412.4"/><text class="tm" x="145.4" y="5452.6">Hallgató</text></g>
<g id="e10"><ellipse class="ent" cx="161" cy="5952" rx="60" ry="40.2"/><line class="dl" x1="101" y1="5952" x2="161" y2="5911.8"/><text class="tm" x="161" y="5952">Felhasználó</text></g>
<g id="e11a"><ellipse class="ent" cx="150.5" cy="6128" rx="60" ry="40"/><line class="dl" x1="90.5" y1="6128" x2="150.5" y2="6088"/><text class="tm" x="150.5" y="6128">Oktató</text></g>
<g id="e11b"><ellipse class="ent" cx="150.5" cy="6253.2" rx="60" ry="40.2"/><line class="dl" x1="90.5" y1="6253.2" x2="150.5" y2="6213"/><text class="tm" x="150.5" y="6253.2">Admin</text></g>
<g id="e12"><ellipse class="ent" cx="161" cy="6742.4" rx="60" ry="40"/><line class="dl" x1="101" y1="6742.4" x2="161" y2="6702.4"/><text class="tm" x="161" y="6742.4">Oktató</text></g>
<g id="e13"><ellipse class="ent" cx="161" cy="7293" rx="60" ry="39.7"/><line class="dl" x1="101" y1="7293" x2="161" y2="7253.3"/><text class="tm" x="161" y="7293">Admin</text></g>
</svg>
